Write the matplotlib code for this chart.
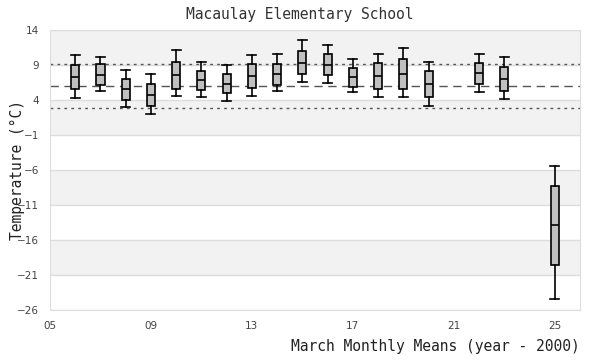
import matplotlib
matplotlib.use("Agg")
import matplotlib.pyplot as plt
import numpy as np

# March monthly means, year - 2000
years = [6, 7, 8, 9, 10, 11, 12, 13, 14, 15, 16, 17, 18, 19, 20, 22, 23, 25]
whislo = [4.24, 5.28, 3.00, 2.00, 4.61, 4.42, 3.85, 4.57, 5.28, 6.57, 6.42, 5.14, 4.42, 4.42, 3.14, 5.14, 4.14, -24.43]
q1 = [5.52, 6.14, 3.95, 3.14, 5.61, 5.42, 5.00, 5.71, 6.14, 7.71, 7.57, 5.85, 5.52, 5.52, 4.42, 6.28, 5.28, -19.58]
med = [7.24, 7.57, 5.57, 4.71, 7.57, 6.85, 6.28, 7.42, 7.71, 9.28, 9.00, 7.24, 7.42, 7.71, 6.28, 7.85, 7.04, -13.91]
q3 = [9.00, 9.14, 7.00, 6.28, 9.42, 8.14, 7.71, 9.14, 9.14, 11.00, 10.57, 8.57, 9.28, 9.85, 8.14, 9.28, 8.71, -8.29]
whishi = [10.42, 10.14, 8.28, 7.71, 11.14, 9.42, 9.00, 10.42, 10.57, 12.57, 11.85, 9.85, 10.57, 11.42, 9.42, 10.57, 10.14, -5.43]

overall_mean = 6.0
upper_ref = 9.2
lower_ref = 2.85

yticks = [14, 9, 4, -1, -6, -11, -16, -21, -26]
xticks = [5, 9, 13, 17, 21, 25]

fig = plt.figure(figsize=(6, 3.6), dpi=100)
ax = fig.add_axes([50 / 600, 50 / 360, 530 / 600, 280 / 360])

ax.set_xlim(5, 26)
ax.set_ylim(-26, 14)

# alternating background bands
for i in range(len(yticks) - 1):
    if i % 2 == 0:
        ax.axhspan(yticks[i + 1], yticks[i], color='#f2f2f2', zorder=0, lw=0)
for y in yticks:
    ax.axhline(y, color='#dddddd', lw=1, zorder=0.5)

ax.axhline(overall_mean, color='#555555', lw=1, ls=(0, (6, 4)), zorder=1)
ax.axhline(upper_ref, color='#555555', lw=1, ls=(0, (2, 3)), zorder=1)
ax.axhline(lower_ref, color='#555555', lw=1, ls=(0, (2, 3)), zorder=1)

stats = []
for i in range(len(years)):
    stats.append({'whislo': whislo[i], 'q1': q1[i], 'med': med[i],
                  'q3': q3[i], 'whishi': whishi[i], 'fliers': []})

ax.bxp(stats, positions=years, widths=0.32, patch_artist=True,
       showfliers=False, manage_ticks=False,
       boxprops=dict(facecolor='#c0c0c0', edgecolor='black', lw=1.2),
       medianprops=dict(color='black', lw=1.2),
       whiskerprops=dict(color='black', lw=1.2),
       capprops=dict(color='black', lw=1.2),
       capwidths=0.36)

ax.set_xticks(xticks)
ax.set_xticklabels(['%02d' % x for x in xticks])
ax.set_yticks(yticks)
ax.tick_params(length=0, labelsize=7.5, labelcolor='#444444', pad=8)
for s in ax.spines.values():
    s.set_color('#dddddd')

mono = 'DejaVu Sans Mono'
fig.text(0.5, 1 - 14 / 360, 'Macaulay Elementary School', ha='center', va='center',
         family=mono, fontsize=10.5, color='#333333')
fig.text(580 / 600, 1 - 347 / 360, 'March Monthly Means (year - 2000)', ha='right',
         va='center', family=mono, fontsize=10.5, color='#222222')
fig.text(17 / 600, 1 - 170 / 360, 'Temperature (\u00b0C)', ha='center', va='center',
         rotation=90, family=mono, fontsize=10.5, color='#222222')

fig.savefig('out.png', dpi=100)
